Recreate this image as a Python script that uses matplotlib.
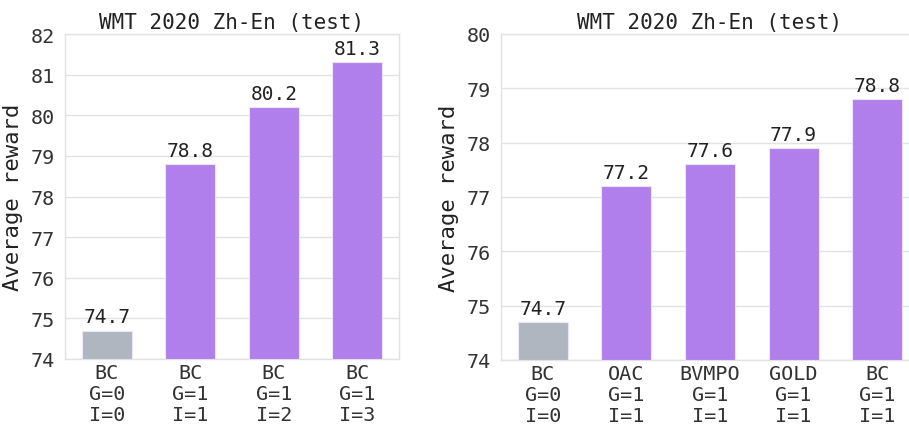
import numpy as np
import matplotlib
matplotlib.use("Agg")
import matplotlib.pyplot as plt

plt.rcParams['font.family'] = ['DejaVu Sans Mono']

# Left panel: BC with growing number of improve steps
left_labels = ["BC\nG=0\nI=0", "BC\nG=1\nI=1", "BC\nG=1\nI=2", "BC\nG=1\nI=3"]
left_values = [74.7, 78.8, 80.2, 81.3]
left_ticks = [74, 75, 76, 77, 78, 79, 80, 81, 82]

# Right panel: comparison of offline RL losses
right_labels = ["BC\nG=0\nI=0", "OAC\nG=1\nI=1", "BVMPO\nG=1\nI=1", "GOLD\nG=1\nI=1", "BC\nG=1\nI=1"]
right_values = [74.7, 77.2, 77.6, 77.9, 78.8]
right_ticks = [74, 75, 76, 77, 78, 79, 80]

title = "WMT 2020 Zh-En (test)"
purple = "#b07feb"
gray = "#b0b6bf"
grid_col = "#e2e2e2"

fig = plt.figure(figsize=(9.09, 4.27), dpi=100)
W, H = 909, 427
ax1 = fig.add_axes([65 / W, (H - 360) / H, 334 / W, 325 / H])
ax2 = fig.add_axes([501 / W, (H - 361) / H, 418 / W, 326 / H])


def draw(ax, labels, values, ticks):
    x = np.arange(len(values))
    colors = [gray] + [purple] * (len(values) - 1)
    bars = ax.bar(x, [v - ticks[0] for v in values], bottom=ticks[0], width=0.6,
                  color=colors, edgecolor="#ede4fb", linewidth=0.8, zorder=3)
    for b, v in zip(bars, values):
        ax.annotate(f"{v:.1f}", (b.get_x() + b.get_width() / 2, v),
                    xytext=(0, 3), textcoords="offset points",
                    ha="center", va="bottom", fontsize=14, color="#222222", zorder=4)
    ax.set_xlim(-0.5, len(values) - 0.5)
    ax.set_ylim(ticks[0], ticks[-1])
    ax.set_yticks(ticks)
    ax.set_xticks(x)
    ax.set_xticklabels(labels, fontsize=14.5, color="#333333", linespacing=1.12)
    ax.tick_params(axis="y", labelsize=14.5, length=0, pad=7, colors="#333333")
    ax.tick_params(axis="x", length=0, pad=3)
    ax.grid(axis="y", color=grid_col, linewidth=1, zorder=0)
    for s in ax.spines.values():
        s.set_color(grid_col)
        s.set_linewidth(1)
    ax.set_ylabel("Average reward", fontsize=16, color="#222222", labelpad=6)
    ax.set_title(title, fontsize=15, color="#222222", pad=4)


draw(ax1, left_labels, left_values, left_ticks)
draw(ax2, right_labels, right_values, right_ticks)

fig.savefig("out.png", dpi=100)
